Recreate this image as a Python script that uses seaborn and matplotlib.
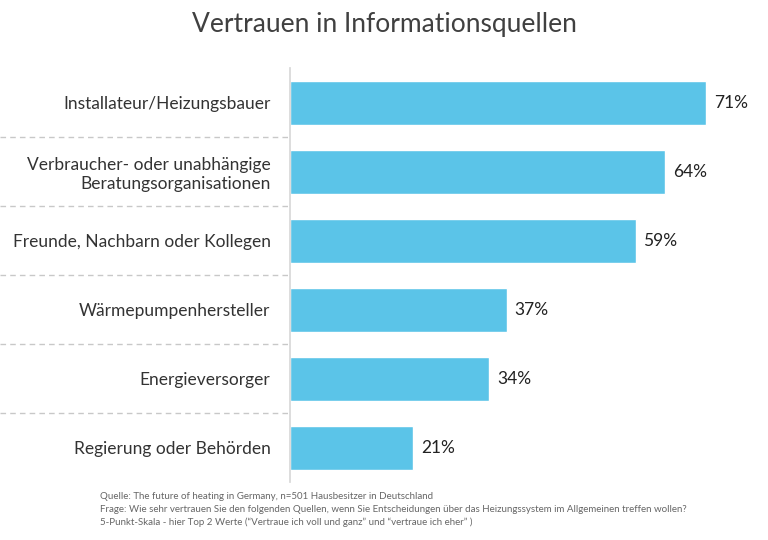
import matplotlib
matplotlib.use("Agg")
import matplotlib.pyplot as plt
import seaborn as sns
import pandas as pd

categories = ["Installateur/Heizungsbauer",
              "Verbraucher- oder unabhängige\nBeratungsorganisationen",
              "Freunde, Nachbarn oder Kollegen",
              "Wärmepumpenhersteller",
              "Energieversorger",
              "Regierung oder Behörden"]
values = [71, 64, 59, 37, 34, 21]
labels = ["71%", "64%", "59%", "37%", "34%", "21%"]

sns.set_theme(style="white")
plt.rcParams['font.family'] = ['Lato', 'DejaVu Sans']

fig = plt.figure(figsize=(7.68, 5.40), dpi=100)
ax = fig.add_axes([290/768, 1-482.5/540, 469/768, 414/540])
df = pd.DataFrame({"cat": categories, "val": values})
sns.barplot(data=df, x="val", y="cat", color="#5BC4E8", saturation=1, width=0.64, ax=ax)
ax.set_xlim(0, 80)
ax.set_ylim(5.5, -0.5)
ax.set_xlabel(""); ax.set_ylabel("")
ax.set_xticks([])
for s in ["top", "right", "bottom"]:
    ax.spines[s].set_visible(False)
ax.spines["left"].set_color("#d8d8d8")
ax.tick_params(axis="y", length=0, pad=14, labelsize=12.5, labelcolor="#333333")
for i, (v, l) in enumerate(zip(values, labels)):
    ax.text(v + 1.3, i, l, va="center", ha="left", fontsize=12.5, color="#222222")
for i in range(5):
    ax.plot([-290/469, 0], [i + 0.5, i + 0.5], transform=ax.get_yaxis_transform(),
            color="#c8c8c8", ls=(0, (4, 3)), lw=1, clip_on=False)
fig.text(0.5, 0.955, "Vertrauen in Informationsquellen", ha="center", va="center",
         fontsize=19, color="#404040")
foot = ("Quelle: The future of heating in Germany, n=501 Hausbesitzer in Deutschland\n"
        "Frage: Wie sehr vertrauen Sie den folgenden Quellen, wenn Sie Entscheidungen über das Heizungssystem im Allgemeinen treffen wollen?\n"
        "5-Punkt-Skala - hier Top 2 Werte (“Vertraue ich voll und ganz” und “vertraue ich eher” )")
fig.text(100/768, 1-492/540, foot, ha="left", va="top", fontsize=7, color="#666666", linespacing=1.5)
fig.savefig("out.png", dpi=100)
